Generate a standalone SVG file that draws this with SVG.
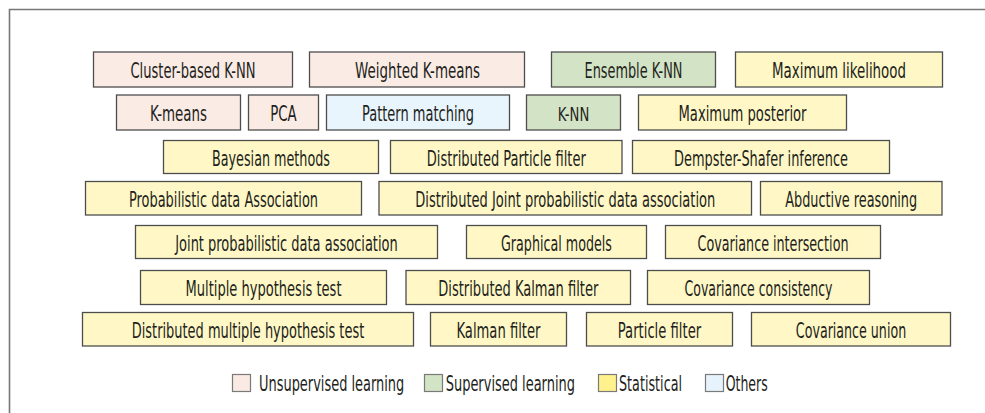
<svg xmlns="http://www.w3.org/2000/svg" width="985" height="413" viewBox="0 0 985 413">
<style>
.b{stroke:#4d4d4d;stroke-width:1.3}
.u{fill:#fbebe5}.s{fill:#d3e3c6}.y{fill:#fff8c6}.o{fill:#e8f5fd}
text{font-family:"Liberation Sans Narrow","DejaVu Sans Condensed","Liberation Sans",sans-serif;font-size:21px;fill:#231f20;text-anchor:middle}
.lg{text-anchor:start}
.sc{font-size:19px}
.ls{stroke:#7a7a7a;stroke-width:1.2}
</style>
<rect width="985" height="413" fill="#fff"/>
<path d="M9.5 413V9.5H985" fill="none" stroke="#777" stroke-width="1.6"/>
<g id="nodes">
<g id="n-cluster-knn"><rect class="b u" x="93.5" y="52" width="199" height="35"/><text x="193" y="78" textLength="125" lengthAdjust="spacingAndGlyphs">Cluster-based K-NN</text></g>
<g id="n-weighted-kmeans"><rect class="b u" x="309.5" y="52" width="215" height="35"/><text x="417.5" y="78" textLength="125" lengthAdjust="spacingAndGlyphs">Weighted K-means</text></g>
<g id="n-ensemble-knn"><rect class="b s" x="551.5" y="52" width="164" height="35"/><text x="633.5" y="78" textLength="98" lengthAdjust="spacingAndGlyphs">Ensemble K-NN</text></g>
<g id="n-max-likelihood"><rect class="b y" x="735.5" y="52" width="207" height="35"/><text x="839" y="78" textLength="134" lengthAdjust="spacingAndGlyphs">Maximum likelihood</text></g>
<g id="n-kmeans"><rect class="b u" x="116.5" y="95" width="124" height="35"/><text x="178.5" y="121" textLength="57" lengthAdjust="spacingAndGlyphs">K-means</text></g>
<g id="n-pca"><rect class="b u" x="248.5" y="95" width="70" height="35"/><text x="283.5" y="121" textLength="26.5" lengthAdjust="spacingAndGlyphs">PCA</text></g>
<g id="n-pattern"><rect class="b o" x="326.5" y="95" width="183" height="35"/><text x="418" y="121" textLength="112" lengthAdjust="spacingAndGlyphs">Pattern matching</text></g>
<g id="n-knn"><rect class="b s" x="526.5" y="95" width="94" height="35"/><text x="573.5" y="121" class="sc" textLength="31.5" lengthAdjust="spacingAndGlyphs">K-NN</text></g>
<g id="n-max-posterior"><rect class="b y" x="638.5" y="95" width="208" height="35"/><text x="742.5" y="121" textLength="128" lengthAdjust="spacingAndGlyphs">Maximum posterior</text></g>
<g id="n-bayesian"><rect class="b y" x="163.5" y="140.5" width="215" height="33"/><text x="271" y="165.5" textLength="118" lengthAdjust="spacingAndGlyphs">Bayesian methods</text></g>
<g id="n-dist-particle"><rect class="b y" x="390.5" y="140.5" width="231.5" height="33"/><text x="506.3" y="165.5" textLength="159" lengthAdjust="spacingAndGlyphs">Distributed Particle filter</text></g>
<g id="n-dempster"><rect class="b y" x="632.5" y="140.5" width="257" height="33"/><text x="761" y="165.5" textLength="174" lengthAdjust="spacingAndGlyphs">Dempster-Shafer inference</text></g>
<g id="n-pda"><rect class="b y" x="85.5" y="181.5" width="276" height="33.5"/><text x="223.5" y="206.5" textLength="189" lengthAdjust="spacingAndGlyphs">Probabilistic data Association</text></g>
<g id="n-dist-jpda"><rect class="b y" x="379" y="181.5" width="372.5" height="33.5"/><text x="565.3" y="206.5" textLength="300" lengthAdjust="spacingAndGlyphs">Distributed Joint probabilistic data association</text></g>
<g id="n-abductive"><rect class="b y" x="760.5" y="181.5" width="181.5" height="33.5"/><text x="851.2" y="206.5" textLength="132" lengthAdjust="spacingAndGlyphs">Abductive reasoning</text></g>
<g id="n-jpda"><rect class="b y" x="135.5" y="225.5" width="302" height="33"/><text x="286.5" y="250.5" textLength="222.5" lengthAdjust="spacingAndGlyphs">Joint probabilistic data association</text></g>
<g id="n-graphical"><rect class="b y" x="466.5" y="225.5" width="180" height="33"/><text x="556.5" y="250.5" textLength="111" lengthAdjust="spacingAndGlyphs">Graphical models</text></g>
<g id="n-cov-intersection"><rect class="b y" x="665.5" y="225.5" width="215" height="33"/><text x="773" y="250.5" textLength="151" lengthAdjust="spacingAndGlyphs">Covariance intersection</text></g>
<g id="n-mht"><rect class="b y" x="140.5" y="270.5" width="246" height="34"/><text x="263.5" y="296" textLength="156" lengthAdjust="spacingAndGlyphs">Multiple hypothesis test</text></g>
<g id="n-dist-kalman"><rect class="b y" x="406" y="270.5" width="224.5" height="34"/><text x="518.3" y="296" textLength="160" lengthAdjust="spacingAndGlyphs">Distributed Kalman filter</text></g>
<g id="n-cov-consistency"><rect class="b y" x="647.5" y="270.5" width="222" height="34"/><text x="758.5" y="296" textLength="148" lengthAdjust="spacingAndGlyphs">Covariance consistency</text></g>
<g id="n-dist-mht"><rect class="b y" x="82.5" y="312.5" width="331" height="33.5"/><text x="248" y="337.8" textLength="232.5" lengthAdjust="spacingAndGlyphs">Distributed multiple hypothesis test</text></g>
<g id="n-kalman"><rect class="b y" x="430.5" y="312.5" width="136" height="33.5"/><text x="498.5" y="337.8" textLength="84" lengthAdjust="spacingAndGlyphs">Kalman filter</text></g>
<g id="n-particle"><rect class="b y" x="586.5" y="312.5" width="146" height="33.5"/><text x="659.5" y="337.8" textLength="83.3" lengthAdjust="spacingAndGlyphs">Particle filter</text></g>
<g id="n-cov-union"><rect class="b y" x="751.5" y="312.5" width="199" height="33.5"/><text x="851" y="337.8" textLength="110.3" lengthAdjust="spacingAndGlyphs">Covariance union</text></g>
</g>
<g id="connectors"></g>
<g id="legend">
<rect class="ls" x="232.5" y="374.5" width="18" height="17" fill="#fbe9e3"/>
<text class="lg" x="259" y="390.8" textLength="145.3" lengthAdjust="spacingAndGlyphs">Unsupervised learning</text>
<rect class="ls" x="424.5" y="374.5" width="18" height="17" fill="#d3e3c6"/>
<text class="lg" x="445.7" y="390.8" textLength="129.3" lengthAdjust="spacingAndGlyphs">Supervised learning</text>
<rect class="ls" x="598.5" y="374.5" width="18" height="17" fill="#fff18c"/>
<text class="lg" x="619" y="390.8" textLength="63" lengthAdjust="spacingAndGlyphs">Statistical</text>
<rect class="ls" x="705.5" y="374.5" width="18" height="17" fill="#e6f3fc"/>
<text class="lg" x="725.7" y="390.8" textLength="42" lengthAdjust="spacingAndGlyphs">Others</text>
</g>
</svg>
